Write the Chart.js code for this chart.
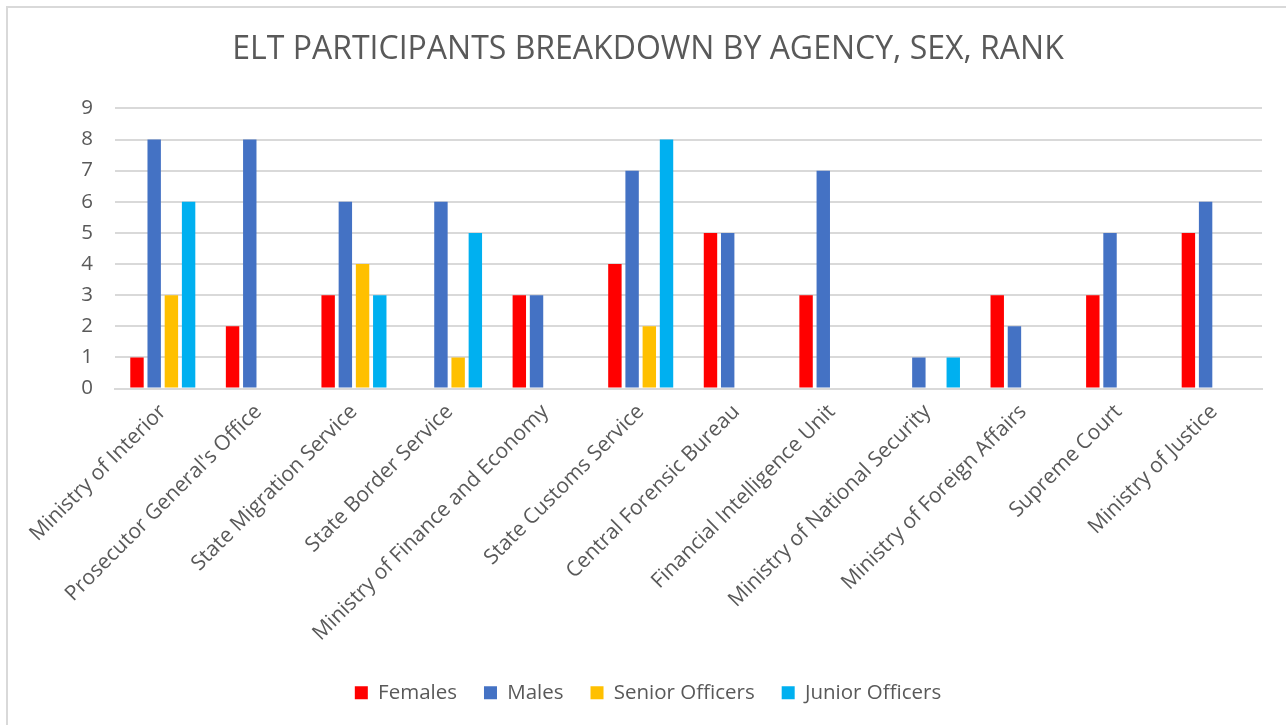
<!DOCTYPE html>
<html>
<head>
<meta charset="utf-8">
<script src="https://cdn.jsdelivr.net/npm/chart.js@4"></script>
<style>
  html, body { margin: 0; padding: 0; background: #fff; overflow: hidden; }
  #frame {
    position: absolute; left: 6px; top: 6px; width: 1300px; height: 740px;
    border: 2px solid #d9d9d9; box-sizing: border-box;
  }
  #wrap { position: absolute; left: 0; top: 0; width: 1286px; height: 725px; }
</style>
</head>
<body>
<div id="frame"></div>
<div id="wrap"><canvas id="eltChart"></canvas></div>
<script>
// agencies on the x axis
const agencies = [
  'Ministry of Interior', "Prosecutor General's Office", 'State Migration Service',
  'State Border Service', 'Ministry of Finance and Economy', 'State Customs Service',
  'Central Forensic Bureau', 'Financial Intelligence Unit', 'Ministry of National Security',
  'Ministry of Foreign Affairs', 'Supreme Court', 'Ministry of Justice'
];
const females = [1, 2, 3, null, 3, 4, 5, 3, null, 3, 3, 5];
const males = [8, 8, 6, 6, 3, 7, 5, 7, 1, 2, 5, 6];
const seniorOfficers = [3, null, 4, 1, null, 2, null, null, null, null, null, null];
const juniorOfficers = [6, null, 3, 5, null, 8, null, null, 1, null, null, null];
const yTicks = [0, 1, 2, 3, 4, 5, 6, 7, 8, 9];

const FONT = '"Open Sans", Lato, sans-serif';
const GREY = '#595959';

document.addEventListener('DOMContentLoaded', () => {
  const ctx = document.getElementById('eltChart').getContext('2d');

  const mk = (label, data, color) => ({
    label: label,
    data: data,
    backgroundColor: color,
    borderWidth: 0,
    categoryPercentage: 0.72,
    barPercentage: 0.78
  });

  new Chart(ctx, {
    type: 'bar',
    data: {
      labels: agencies,
      datasets: [
        mk('Females', females, '#FF0000'),
        mk('Males', males, '#4472C4'),
        mk('Senior Officers', seniorOfficers, '#FFC000'),
        mk('Junior Officers', juniorOfficers, '#00B0F0')
      ]
    },
    options: {
      responsive: true,
      maintainAspectRatio: false,
      animation: false,
      layout: { padding: { top: 15, right: 24, bottom: 12, left: 34 } },
      plugins: {
        title: {
          display: true,
          text: 'ELT PARTICIPANTS BREAKDOWN BY AGENCY, SEX, RANK',
          color: GREY,
          font: { family: FONT, size: 32, weight: 'normal' },
          padding: { top: 16, bottom: 39 }
        },
        legend: {
          position: 'bottom',
          labels: {
            color: GREY,
            font: { family: FONT, size: 20.5 },
            boxWidth: 13,
            boxHeight: 13,
            padding: 27
          }
        },
        tooltip: { enabled: false }
      },
      scales: {
        x: {
          grid: { display: false },
          border: { color: '#d9d9d9', width: 2 },
          ticks: {
            color: GREY,
            font: { family: FONT, size: 21 },
            minRotation: 45,
            maxRotation: 45,
            autoSkip: false
          },
          afterFit: (axis) => { axis.height = 267; }
        },
        y: {
          min: 0,
          max: 9,
          afterBuildTicks: (axis) => { axis.ticks = yTicks.map(v => ({ value: v })); },
          grid: { color: '#d9d9d9', lineWidth: 2, drawTicks: false },
          border: { display: false },
          ticks: {
            color: GREY,
            font: { family: FONT, size: 20.5 },
            padding: 22
          },
          afterFit: (axis) => { axis.width = 81; }
        }
      }
    }
  });
});
</script>
</body>
</html>
